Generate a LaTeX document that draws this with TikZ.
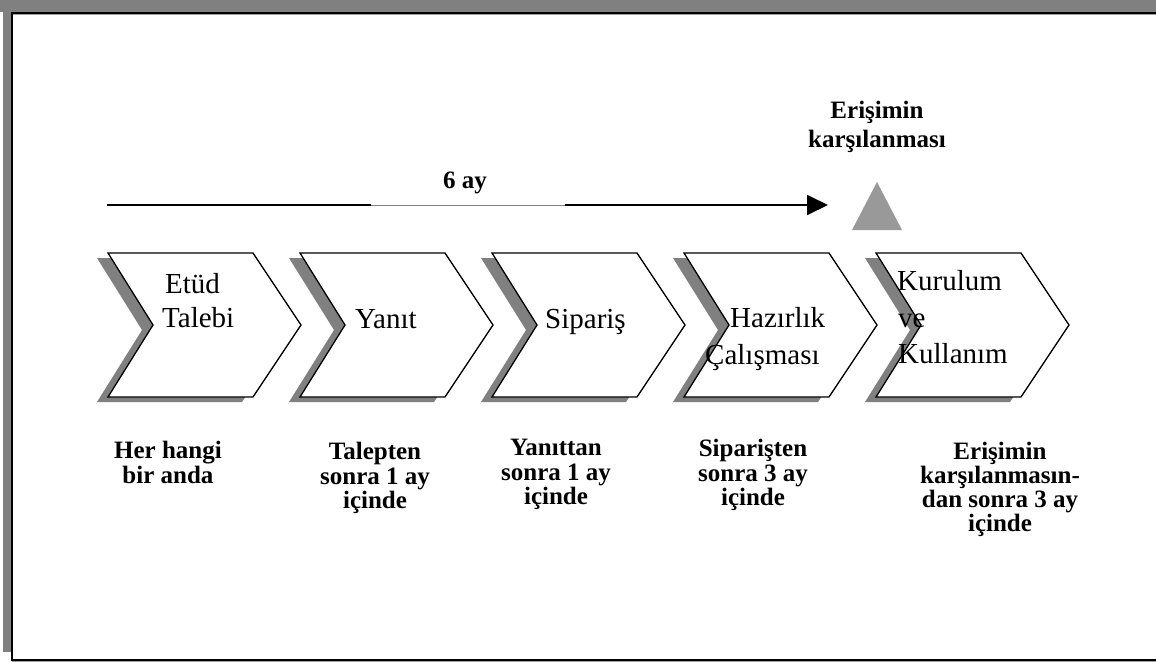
\documentclass[tikz,border=0pt]{standalone}
\usepackage{fontspec}
\setmainfont{Liberation Serif}
\usetikzlibrary{arrows.meta}
\definecolor{frameGray}{HTML}{808080}
\definecolor{lineGray}{HTML}{A0A0A0}
\definecolor{shadowGray}{HTML}{808080}
\definecolor{triGray}{HTML}{999999}
\begin{document}
\begin{tikzpicture}[x=1pt,y=-1pt,
  chevtext/.style={font=\fontsize{29}{34}\selectfont, inner sep=0pt, anchor=base west},
  lbl/.style={font=\fontsize{25}{25}\selectfont\bfseries, inner sep=0pt, anchor=base},
  chevshadow/.style={fill=shadowGray},
  chevbox/.style={fill=white, draw=black, line width=1.3pt, line join=miter},
  mainline/.style={line width=1.8pt},
  ]
\useasboundingbox (0,0) rectangle (1156,662);
% frame
\fill[frameGray] (0,0) rectangle (1156,12);
\fill[frameGray] (3,0) rectangle (11,652);
\draw[lineGray, line width=1pt] (13,14.8) -- (1156,14.8);
\draw[lineGray, line width=1pt] (12,661.5) -- (1156,661.5);
\draw[line width=1.8pt] (1156,13) -- (12,13) -- (12,660) -- (1156,660);
% chevrons
\foreach \x in {108,300,492,684,876}{
  \fill[chevshadow] ({\x-11},258) -- ++(145,0) -- ++(48,72) -- ++(-48,72) -- ++(-145,0) -- ++(45,-72) -- cycle;
  \filldraw[chevbox] (\x,253) -- ++(145,0) -- ++(48,72) -- ++(-48,72) -- ++(-145,0) -- ++(45,-72) -- cycle;
}
% time arrow
\coordinate (a0) at (107,205);
\coordinate (a1) at (371,205);
\coordinate (a2) at (565,205);
\coordinate (a3) at (828,205);
\draw[mainline] (a0) -- (a1);
\draw[frameGray, line width=1pt] (a1) -- (a2);
\draw[mainline, -{Triangle[length=21pt,width=20pt]}] (a2) -- (a3);
\node[lbl] (sixay) at (465,188) {6 ay};
% milestone
\fill[triGray] (877,182) -- (902,230) -- (852,230) -- cycle;
\node[lbl] (m1) at (877,118) {Erişimin};
\node[lbl] (m2) at (877,147) {karşılanması};
% chevron texts
\node[chevtext] (c1a) at (165,293) {Etüd};
\node[chevtext] (c1b) at (162,327) {Talebi};
\node[chevtext] (c2) at (355,328) {Yanıt};
\node[chevtext] (c3) at (545,328) {Sipariş};
\node[chevtext] (c4a) at (730,327) {Hazırlık};
\node[chevtext] (c4b) at (705,364) {Çalışması};
\node[chevtext] (c5a) at (897,290) {Kurulum};
\node[chevtext] (c5b) at (898,327) {ve};
\node[chevtext] (c5c) at (898,363) {Kullanım};
% labels below
\node[lbl] (l1a) at (168,458) {Her hangi};
\node[lbl] (l1b) at (168,483) {bir anda};
\node[lbl] (l2a) at (375,459) {Talepten};
\node[lbl] (l2b) at (375,484) {sonra 1 ay};
\node[lbl] (l2c) at (375,508) {içinde};
\node[lbl] (l3a) at (556,455) {Yanıttan};
\node[lbl] (l3b) at (556,480) {sonra 1 ay};
\node[lbl] (l3c) at (556,504) {içinde};
\node[lbl] (l4a) at (753,456) {Siparişten};
\node[lbl] (l4b) at (753,481) {sonra 3 ay};
\node[lbl] (l4c) at (753,505) {içinde};
\node[lbl] (l5a) at (1000,459) {Erişimin};
\node[lbl] (l5b) at (1000,483) {karşılanmasın-};
\node[lbl] (l5c) at (1000,507) {dan sonra 3 ay};
\node[lbl] (l5d) at (1000,531) {içinde};
\end{tikzpicture}
\end{document}
